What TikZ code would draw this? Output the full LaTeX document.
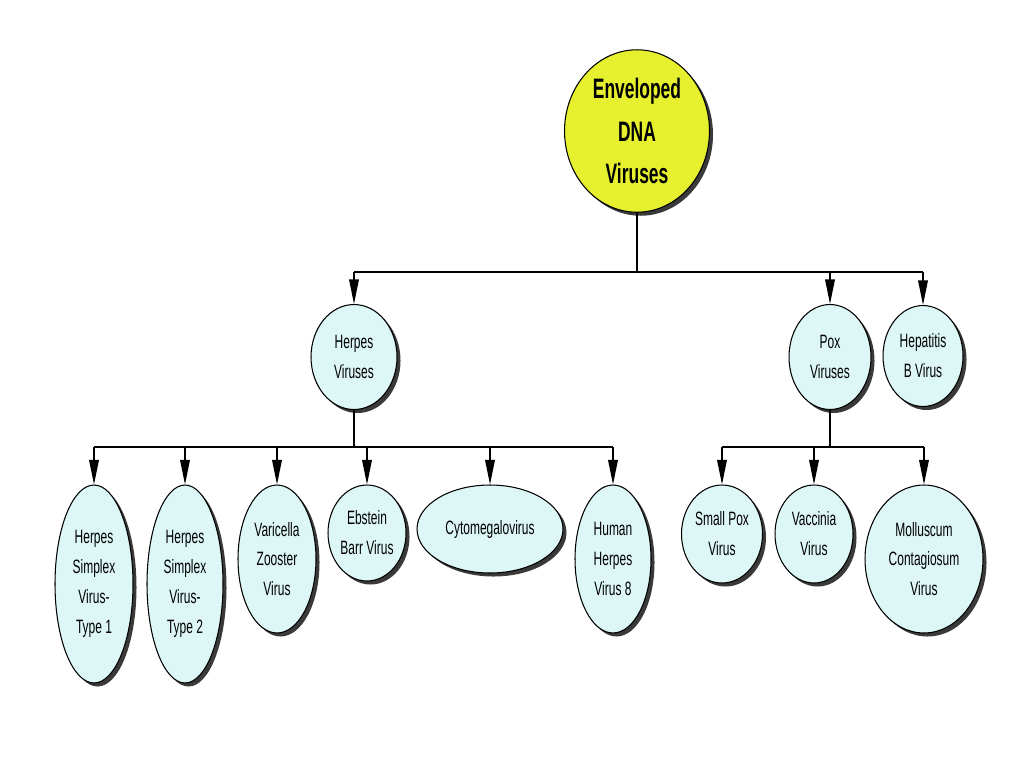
\documentclass[tikz,border=0pt]{standalone}
\usepackage{fontspec}
\setmainfont{Liberation Sans}[FakeStretch=0.62]
\usepackage{xcolor}
\definecolor{rootyellow}{HTML}{E6F02E}
\definecolor{virusblue}{HTML}{DDF6F6}
\definecolor{shadowgray}{HTML}{3A3A3A}
\usetikzlibrary{shapes.geometric,arrows.meta,shadows}

\begin{document}
\begin{tikzpicture}[
  x=0.02cm,y=-0.02cm,
  virus/.style={ellipse,draw=black,line width=0.6pt,fill=virusblue,
                inner sep=0pt,align=center,
                font=\fontsize{11}{17}\selectfont,
                drop shadow={shadow xshift=2pt,shadow yshift=-2pt,
                             fill=shadowgray,opacity=1}},
  root/.style={virus,fill=rootyellow,
               font=\fontsize{16}{24}\selectfont\bfseries},
  link/.style={line width=0.7pt},
  arr/.style={link,-{Triangle[length=14pt,width=5.5pt]}}
]
\useasboundingbox[fill=white] (0,0) rectangle (1024,768);

% Wurzel
\node[root,minimum width=2.9cm,minimum height=3.25cm] (env) at (637,131)
  {Enveloped\\DNA\\Viruses};

% Familien
\node[virus,minimum width=1.72cm,minimum height=2.1cm] (herpes) at (354,357) {Herpes\\Viruses};
\node[virus,minimum width=1.64cm,minimum height=2.1cm] (pox) at (830,357) {Pox\\Viruses};
\node[virus,minimum width=1.6cm,minimum height=2.02cm] (hepb) at (923,356) {Hepatitis\\B Virus};

% Herpesviren
\node[virus,minimum width=1.56cm,minimum height=3.96cm] (hsv1) at (94,584) {Herpes\\Simplex\\Virus-\\Type 1};
\node[virus,minimum width=1.52cm,minimum height=3.96cm] (hsv2) at (185,584) {Herpes\\Simplex\\Virus-\\Type 2};
\node[virus,minimum width=1.56cm,minimum height=2.96cm] (vzv) at (277,559) {Varicella\\Zooster\\Virus};
\node[virus,minimum width=1.56cm,minimum height=1.92cm] (ebv) at (367,533) {Ebstein\\Barr Virus};
\node[virus,minimum width=2.92cm,minimum height=1.76cm] (cmv) at (490,529) {Cytomegalovirus};
\node[virus,minimum width=1.52cm,minimum height=2.96cm] (hhv8) at (613,559) {Human\\Herpes\\Virus 8};

% Pockenviren
\node[virus,minimum width=1.62cm,minimum height=1.96cm] (smallpox) at (722,534) {Small Pox\\Virus};
\node[virus,minimum width=1.56cm,minimum height=1.96cm] (vaccinia) at (814,534) {Vaccinia\\Virus};
\node[virus,minimum width=2.36cm,minimum height=2.96cm] (mollusc) at (924,559) {Molluscum\\Contagiosum\\Virus};

% Verzweigungen
\coordinate (j1) at (637,272);
\coordinate (j2) at (354,447);
\coordinate (j3) at (830,447);

\draw[link] (env.south) -- (j1);
\draw[link] (herpes |- j1) -- (hepb |- j1);
\foreach \n in {herpes,pox,hepb}
  \draw[arr] (\n |- j1) -- (\n.north);

\draw[link] (herpes.south) -- (j2);
\draw[link] (hsv1 |- j2) -- (hhv8 |- j2);
\foreach \n in {hsv1,hsv2,vzv,ebv,cmv,hhv8}
  \draw[arr] (\n |- j2) -- (\n.north);

\draw[link] (pox.south) -- (j3);
\draw[link] (smallpox |- j3) -- (mollusc |- j3);
\foreach \n in {smallpox,vaccinia,mollusc}
  \draw[arr] (\n |- j3) -- (\n.north);

\end{tikzpicture}
\end{document}
